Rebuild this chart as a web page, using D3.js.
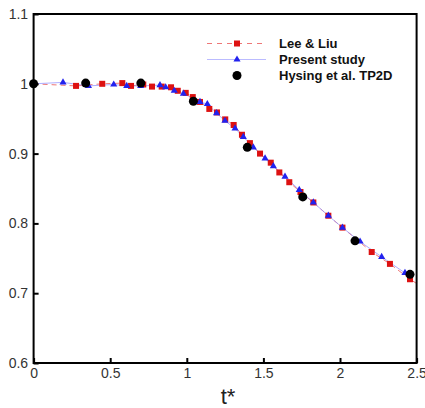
<!DOCTYPE html>
<html>
<head>
<meta charset="utf-8">
<script src="https://cdn.jsdelivr.net/npm/d3@7"></script>
<style>
  body { margin: 0; background: #fff; }
  svg { display: block; font-family: "Liberation Sans", Arial, sans-serif; }
</style>
</head>
<body>
<svg id="chart" width="425" height="408"></svg>
<script>
// Lee & Liu (red squares, dashed)
const leeT = [0, 0.277, 0.448, 0.579, 0.636, 0.716, 0.773, 0.836, 0.897, 0.941, 0.993, 1.039, 1.086, 1.147, 1.197, 1.251, 1.306, 1.360, 1.412, 1.478, 1.548, 1.604, 1.669, 1.742, 1.826, 1.924, 2.016, 2.207, 2.326, 2.457, 2.5];
const leeV = [1.000, 0.997, 1.000, 1.001, 0.997, 0.999, 0.996, 0.996, 0.995, 0.990, 0.987, 0.981, 0.974, 0.964, 0.959, 0.949, 0.941, 0.927, 0.915, 0.900, 0.887, 0.873, 0.859, 0.845, 0.830, 0.811, 0.794, 0.759, 0.742, 0.720, 0.714];

// Present study (blue triangles, thin line)
const presT = [0, 0.192, 0.358, 0.523, 0.608, 0.699, 0.825, 0.862, 0.918, 0.978, 1.086, 1.134, 1.194, 1.249, 1.315, 1.369, 1.434, 1.511, 1.565, 1.641, 1.734, 1.826, 1.924, 2.016, 2.131, 2.272, 2.424];
const presV = [1.000, 1.002, 0.997, 0.999, 0.997, 0.997, 0.998, 0.995, 0.990, 0.986, 0.974, 0.971, 0.958, 0.947, 0.936, 0.924, 0.909, 0.893, 0.882, 0.867, 0.848, 0.830, 0.811, 0.794, 0.774, 0.752, 0.729];

// Hysing et al. TP2D (black circles)
const hysT = [0, 0.34, 0.70, 1.043, 1.395, 1.757, 2.098, 2.457];
const hysV = [1.000, 1.001, 1.001, 0.975, 0.909, 0.838, 0.775, 0.727];

const xTicks = [0, 0.5, 1, 1.5, 2, 2.5];
const yTicks = [0.6, 0.7, 0.8, 0.9, 1, 1.1];

const svg = d3.select("#chart");
const mLeft = 33.6, mRight = 416.6, mTop = 14, mBottom = 363;

const x = d3.scaleLinear().domain([0, 2.5]).range([mLeft, mRight]);
const y = d3.scaleLinear().domain([0.6, 1.1]).range([mBottom, mTop]);

const zip = (a, b) => a.map((t, i) => [t, b[i]]);
const lee = zip(leeT, leeV);
const pres = zip(presT, presV);
const hys = zip(hysT, hysV);

const line = d3.line().x(d => x(d[0])).y(d => y(d[1]));

// 선
svg.append("path").datum(lee)
    .attr("d", line).attr("fill", "none")
    .attr("stroke", "#ee7777").attr("stroke-width", 1)
    .attr("stroke-dasharray", "5,4");
svg.append("path").datum(pres)
    .attr("d", line).attr("fill", "none")
    .attr("stroke", "#9999ff").attr("stroke-width", 0.8);

// 마커
const sq = 6;
svg.append("g").selectAll("rect")
    .data(lee.slice(1, -1))
    .enter().append("rect")
    .attr("x", d => x(d[0]) - sq / 2)
    .attr("y", d => y(d[1]) - sq / 2)
    .attr("width", sq).attr("height", sq)
    .attr("fill", "#dd1111");

const tri = d3.symbol().type(d3.symbolTriangle).size(22);
svg.append("g").selectAll("path")
    .data(pres)
    .enter().append("path")
    .attr("d", tri)
    .attr("transform", d => `translate(${x(d[0])},${y(d[1])})`)
    .attr("fill", "#2222ee");

svg.append("g").selectAll("circle")
    .data(hys)
    .enter().append("circle")
    .attr("cx", d => x(d[0]))
    .attr("cy", d => y(d[1]))
    .attr("r", 4.5)
    .attr("fill", "#000");

// 축 (안쪽 눈금)
const xAxis = d3.axisBottom(x).tickValues(xTicks).tickSize(-5).tickPadding(5)
    .tickFormat(d3.format("~g"));
svg.append("g").attr("transform", `translate(0,${mBottom})`).call(xAxis)
    .call(g => g.select(".domain").remove())
    .call(g => g.selectAll("line").attr("stroke-width", 2))
    .call(g => g.selectAll("text").attr("font-size", 14).attr("fill", "#333")
        .attr("font-family", "Liberation Sans, Arial, sans-serif"));

const yAxis = d3.axisLeft(y).tickValues(yTicks).tickSize(-5).tickPadding(5.5)
    .tickFormat(d3.format("~g"));
svg.append("g").attr("transform", `translate(${mLeft},0)`).call(yAxis)
    .call(g => g.select(".domain").remove())
    .call(g => g.selectAll("line").attr("stroke-width", 2))
    .call(g => g.selectAll("text").attr("font-size", 14).attr("fill", "#333")
        .attr("font-family", "Liberation Sans, Arial, sans-serif"));

// 테두리
svg.append("rect")
    .attr("x", mLeft).attr("y", mTop)
    .attr("width", mRight - mLeft).attr("height", mBottom - mTop)
    .attr("fill", "none").attr("stroke", "#000").attr("stroke-width", 2);

svg.append("text")
    .attr("x", 228).attr("y", 404)
    .attr("text-anchor", "middle")
    .attr("font-size", 22).attr("fill", "#222")
    .text("t*");

// 범례
const legend = svg.append("g");
const lx0 = 207, lx1 = 266, lmx = 237, tx = 279;
const rows = [43.5, 59.5, 75.5];

legend.append("line").attr("x1", lx0).attr("x2", lx1).attr("y1", rows[0]).attr("y2", rows[0])
    .attr("stroke", "#ee7777").attr("stroke-dasharray", "5,5");
legend.append("rect").attr("x", lmx - sq / 2).attr("y", rows[0] - sq / 2)
    .attr("width", sq).attr("height", sq).attr("fill", "#dd1111");

legend.append("line").attr("x1", lx0).attr("x2", lx1).attr("y1", rows[1]).attr("y2", rows[1])
    .attr("stroke", "#aaaaff").attr("stroke-width", 0.8);
legend.append("path").attr("d", tri)
    .attr("transform", `translate(${lmx},${rows[1]})`).attr("fill", "#2222ee");

legend.append("circle").attr("cx", lmx).attr("cy", rows[2]).attr("r", 4.5).attr("fill", "#000");

const names = ["Lee & Liu", "Present study", "Hysing et al. TP2D"];
legend.selectAll("text.lbl")
    .data(names)
    .enter().append("text")
    .attr("class", "lbl")
    .attr("x", tx)
    .attr("y", (d, i) => rows[i] + 4.5)
    .attr("font-size", 13).attr("font-weight", "bold").attr("fill", "#111")
    .text(d => d);
</script>
</body>
</html>
